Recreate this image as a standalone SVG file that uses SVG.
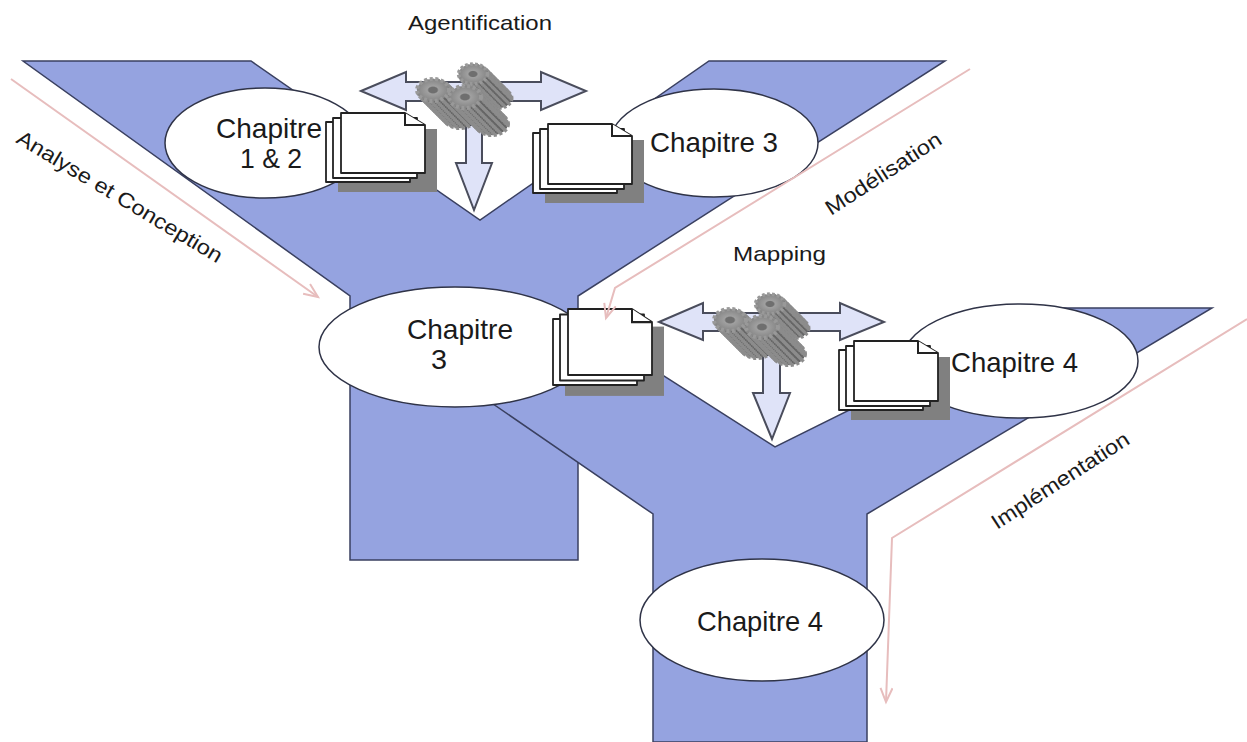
<svg xmlns="http://www.w3.org/2000/svg" width="1247" height="742" viewBox="0 0 1247 742">
<style>
.band{fill:#95a3e0;stroke:#3a4060;stroke-width:1.5;stroke-linejoin:miter}
.ell{fill:#fff;stroke:#2f3347;stroke-width:1.5}
.arrow{fill:#dfe3f8;stroke:#4a4d5c;stroke-width:2;stroke-linejoin:miter}
.page{fill:#fff;stroke:#222;stroke-width:1.8;stroke-linejoin:round}
.flow{fill:none;stroke:#e7bdbd;stroke-width:2}
text{font-family:"Liberation Sans",Arial,sans-serif;fill:#1a1a1a}
.big{font-size:28px}
.lab{font-size:21px}
</style>
<defs>
<marker id="open" markerWidth="18" markerHeight="14" refX="15" refY="7" orient="auto" markerUnits="userSpaceOnUse">
<path d="M1 1L15 7L1 13" fill="none" stroke="#e7bdbd" stroke-width="2"/>
</marker>
<radialGradient id="gtop"><stop offset="0.26" stop-color="#6f6f6f"/><stop offset="0.36" stop-color="#a0a0a0"/><stop offset="1" stop-color="#858585"/></radialGradient>
<g id="gs"><ellipse rx="16" ry="11" fill="#666" stroke="#8c8c8c" stroke-width="4" stroke-dasharray="3 2.5"/></g>
<g id="gear">
<use href="#gs" x="27" y="27"/><use href="#gs" x="25.5" y="25.5"/><use href="#gs" x="24" y="24"/><use href="#gs" x="22.5" y="22.5"/><use href="#gs" x="21" y="21"/><use href="#gs" x="19.5" y="19.5"/><use href="#gs" x="18" y="18"/><use href="#gs" x="16.5" y="16.5"/><use href="#gs" x="15" y="15"/><use href="#gs" x="13.5" y="13.5"/><use href="#gs" x="12" y="12"/><use href="#gs" x="10.5" y="10.5"/><use href="#gs" x="9" y="9"/><use href="#gs" x="7.5" y="7.5"/><use href="#gs" x="6" y="6"/><use href="#gs" x="4.5" y="4.5"/><use href="#gs" x="3" y="3"/><use href="#gs" x="1.5" y="1.5"/>
<ellipse rx="16" ry="11" fill="url(#gtop)" stroke="#999" stroke-width="4" stroke-dasharray="3 2.5"/>
</g>
<g id="gears">
<use href="#gear" transform="translate(473,74) scale(.9)"/>
<use href="#gear" transform="translate(433,90)"/>
<use href="#gear" transform="translate(465,97)"/>
</g>
<g id="doc">
<rect x="-3" y="16" width="99" height="63" fill="#808080"/>
<rect x="-15" y="9" width="84" height="60" class="page"/>
<rect x="-8" y="5" width="84" height="60" class="page"/>
<path d="M0 0H64L84 12V60H0Z" class="page"/>
<path d="M64 0V12H84" fill="#fff" stroke="#222" stroke-width="2"/>
</g>
</defs>
<g id="bands">
<path id="band-upper" class="band" d="M23 61H251L480 220L709 61H945L578 296V560H350V296Z"/>
<path id="band-lower" class="band" d="M480 395L653 514V742H867V514L1212 308H1055L775 447L600 335Z"/>
</g>
<g id="chapitre-1-2"><ellipse class="ell" cx="265" cy="143" rx="100" ry="55"/><text class="big" x="216" y="138" textLength="106" lengthAdjust="spacingAndGlyphs">Chapitre</text><text class="big" x="240" y="168" textLength="62" lengthAdjust="spacingAndGlyphs">1 &amp; 2</text></g>
<g id="chapitre-3-top"><ellipse class="ell" cx="714" cy="143" rx="104" ry="54"/><text class="big" x="650" y="152" textLength="128" lengthAdjust="spacingAndGlyphs">Chapitre 3</text></g>
<g id="chapitre-3-mid"><ellipse class="ell" cx="455" cy="347" rx="136" ry="60"/><text class="big" x="407" y="339" textLength="106" lengthAdjust="spacingAndGlyphs">Chapitre</text><text class="big" x="431" y="369" textLength="16" lengthAdjust="spacingAndGlyphs">3</text></g>
<g id="chapitre-4-right"><ellipse class="ell" cx="1020" cy="361" rx="118" ry="57"/><text class="big" x="951" y="372" textLength="127" lengthAdjust="spacingAndGlyphs">Chapitre 4</text></g>
<g id="chapitre-4-bottom"><ellipse class="ell" cx="762" cy="620" rx="122" ry="61"/><text class="big" x="697" y="631" textLength="126" lengthAdjust="spacingAndGlyphs">Chapitre 4</text></g>
<g id="docs">
<use href="#doc" x="341" y="113"/>
<use href="#doc" x="548" y="124"/>
<use href="#doc" transform="translate(568,309) scale(1,1.1)"/>
<use href="#doc" x="854" y="341"/>
</g>
<g id="connectors">
<path class="flow" d="M11 79L318 297" marker-end="url(#open)"/>
<path class="flow" d="M970 69L615 288L606 318" marker-end="url(#open)"/>
<path class="flow" d="M1247 319L892 538L886 702" marker-end="url(#open)"/>
</g>
<g id="agentification">
<path class="arrow" d="M361 91L406 72V82H541V72L586 91L541 110V101H406V110Z"/>
<path class="arrow" d="M466 125H482V163H492L474 210L456 163H466Z"/>
<use href="#gears"/>
<text class="lab" x="408" y="30" textLength="144" lengthAdjust="spacingAndGlyphs">Agentification</text>
</g>
<g id="mapping">
<path class="arrow" d="M659 322L703 303V313H840V303L884 322L840 340V331H703V340Z"/>
<path class="arrow" d="M763 355H780V393H790L772 439L753 393H763Z"/>
<use href="#gears" transform="translate(297,230)"/>
<text class="lab" x="733" y="261" textLength="93" lengthAdjust="spacingAndGlyphs">Mapping</text>
</g>
<g id="labels">
<text class="lab" transform="translate(15,142) rotate(31)" textLength="236" lengthAdjust="spacingAndGlyphs">Analyse et Conception</text>
<text class="lab" transform="translate(831,216) rotate(-33)" textLength="134" lengthAdjust="spacingAndGlyphs">Modélisation</text>
<text class="lab" transform="translate(997,530) rotate(-33)" textLength="160" lengthAdjust="spacingAndGlyphs">Implémentation</text>
</g>
</svg>
